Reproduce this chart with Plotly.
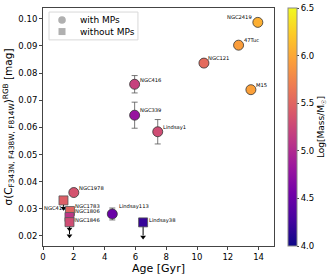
import plotly.graph_objects as go

# Clusters with multiple populations (circles)
mp_names = ["NGC2419", "47Tuc", "NGC121", "M15", "NGC416", "NGC339", "Lindsay1", "NGC1978", "Lindsay113"]
mp_age = [13.95, 12.7, 10.45, 13.5, 5.95, 5.95, 7.45, 2.0, 4.5]
mp_sigma = [0.0987, 0.0903, 0.0837, 0.0739, 0.0759, 0.0645, 0.0584, 0.0360, 0.0281]
mp_err = [0.0, 0.0012, 0.0013, 0.0, 0.0032, 0.0048, 0.0045, 0.0, 0.0022]
mp_mass = [6.05, 5.93, 5.55, 5.95, 5.2, 4.8, 5.3, 5.35, 4.5]

# Clusters without multiple populations (squares, upper limits)
nomp_names = ["NGC419", "NGC1783", "NGC1806", "NGC1846", "Lindsay38"]
nomp_age = [1.33, 1.75, 1.72, 1.72, 6.5]
nomp_sigma = [0.0331, 0.0292, 0.0270, 0.0251, 0.0250]
nomp_limit = [0.0302, 0.0240, 0.0226, 0.0201, 0.0196]
nomp_mass = [5.45, 5.5, 5.1, 5.3, 4.2]

x_ticks = [0, 2, 4, 6, 8, 10, 12, 14]
y_ticks = [0.02, 0.03, 0.04, 0.05, 0.06, 0.07, 0.08, 0.09, 0.10]
cbar_ticks = [4.0, 4.5, 5.0, 5.5, 6.0, 6.5]
legend_labels = ["with MPs", "without MPs"]

# label offsets in pixels relative to the point (xshift, yshift of text centre, anchor)
mp_label_pos = [(-5, 5, "right"), (4, 5, "left"), (3.5, 4.6, "left"), (4, 4.7, "left"),
                (4.5, 4.3, "left"), (4.5, 5, "left"), (4, 4.7, "left"), (3.7, 4.3, "left"),
                (6, 7, "left")]
nomp_label_pos = [(2.4, -8, "right"), (4, 5.3, "left"), (4.7, 6, "left"), (4.7, 1.7, "left"),
                  (5.3, 2, "left")]

FONT = "DejaVu Sans"
fig = go.Figure()

# upper-limit arrows for squares
for xa, ys, yl in zip(nomp_age, nomp_sigma, nomp_limit):
    fig.add_trace(go.Scatter(x=[xa, xa], y=[ys, yl + 0.0006], mode="lines",
                             line=dict(color="black", width=1), showlegend=False, hoverinfo="skip"))
fig.add_trace(go.Scatter(x=nomp_age, y=nomp_limit, mode="markers",
                         marker=dict(symbol="triangle-down", size=5, color="black"),
                         showlegend=False, hoverinfo="skip"))

fig.add_trace(go.Scatter(
    x=mp_age, y=mp_sigma, mode="markers",
    error_y=dict(type="data", array=mp_err, color="#555555", thickness=0.8, width=3),
    marker=dict(symbol="circle", size=10, color=mp_mass, coloraxis="coloraxis",
                line=dict(color="#333333", width=0.8)),
    showlegend=False))

fig.add_trace(go.Scatter(
    x=nomp_age, y=nomp_sigma, mode="markers",
    marker=dict(symbol="square", size=9, color=nomp_mass, coloraxis="coloraxis",
                line=dict(color="#555555", width=0.8)),
    showlegend=False))

for names, xs, ys, pos in [(mp_names, mp_age, mp_sigma, mp_label_pos),
                           (nomp_names, nomp_age, nomp_sigma, nomp_label_pos)]:
    for n, xv, yv, (dx, dy, anc) in zip(names, xs, ys, pos):
        fig.add_annotation(x=xv, y=yv, text=n, showarrow=False, xanchor=anc, yanchor="middle",
                           xshift=dx, yshift=dy, borderpad=0,
                           font=dict(size=5.2, color="black", family=FONT))

# hand-drawn legend (matplotlib style box)
fig.add_shape(type="rect", xref="paper", yref="paper", x0=0.026, x1=0.411, y0=0.866, y1=0.983,
              line=dict(color="#d8d8d8", width=1), fillcolor="rgba(255,255,255,0.85)", layer="above")
fig.add_shape(type="circle", xref="paper", yref="paper", xsizemode="pixel", ysizemode="pixel",
              xanchor=0.0823, yanchor=0.9496, x0=-3.8, x1=3.8, y0=-3.8, y1=3.8,
              fillcolor="#b0b0b0", line=dict(color="#b0b0b0", width=0), layer="above")
fig.add_shape(type="rect", xref="paper", yref="paper", xsizemode="pixel", ysizemode="pixel",
              xanchor=0.0823, yanchor=0.901, x0=-3.5, x1=3.5, y0=-3.5, y1=3.5,
              fillcolor="#b0b0b0", line=dict(color="#b0b0b0", width=0), layer="above")
for lab, ly in zip(legend_labels, [0.9496, 0.901]):
    fig.add_annotation(xref="paper", yref="paper", x=0.152, y=ly, text=lab, showarrow=False,
                       xanchor="left", yanchor="middle", font=dict(size=9, family=FONT, color="black"))

axis_common = dict(showgrid=False, zeroline=False, showline=True, linecolor="#444444", linewidth=1,
                   mirror=True, ticks="outside", ticklen=3, tickwidth=1, tickcolor="#444444",
                   tickfont=dict(size=8.5, family=FONT, color="black"), automargin=False)

fig.update_layout(
    width=330, height=277,
    margin=dict(l=43, r=56, t=8, b=31, autoexpand=False),
    paper_bgcolor="white", plot_bgcolor="white",
    font=dict(family=FONT, color="black"),
    showlegend=False,
    xaxis=dict(range=[0, 15], tickvals=x_ticks, ticktext=[str(v) for v in x_ticks],
               title=dict(text="Age [Gyr]", font=dict(size=11, family=FONT), standoff=1),
               **axis_common),
    yaxis=dict(range=[0.0163, 0.104], tickvals=y_ticks, ticktext=[f"{v:.2f}" for v in y_ticks],
               title=dict(text="σ(C<sub>F343N, F438W, F814W</sub>)<sup>RGB</sup> [mag]",
                          font=dict(size=10.5, family=FONT), standoff=3),
               **axis_common),
    coloraxis=dict(colorscale="Plasma", cmin=4.0, cmax=6.5,
                   colorbar=dict(x=1.06, xanchor="left", y=0.5, yanchor="middle", xpad=0, ypad=0,
                                 len=1.0, lenmode="fraction", thickness=9,
                                 outlinecolor="#888888", outlinewidth=1,
                                 tickvals=cbar_ticks, ticktext=[f"{v:.1f}" for v in cbar_ticks],
                                 ticks="outside", ticklen=2, tickfont=dict(size=8.5, family=FONT),
                                 title=dict(text="Log[Mass/M<sub>☉</sub>]", side="right",
                                            font=dict(size=9, family=FONT)))),
)

fig.write_html("out.html", config={"displayModeBar": False},
               post_script="document.body.style.margin='0';document.body.style.padding='0';")
